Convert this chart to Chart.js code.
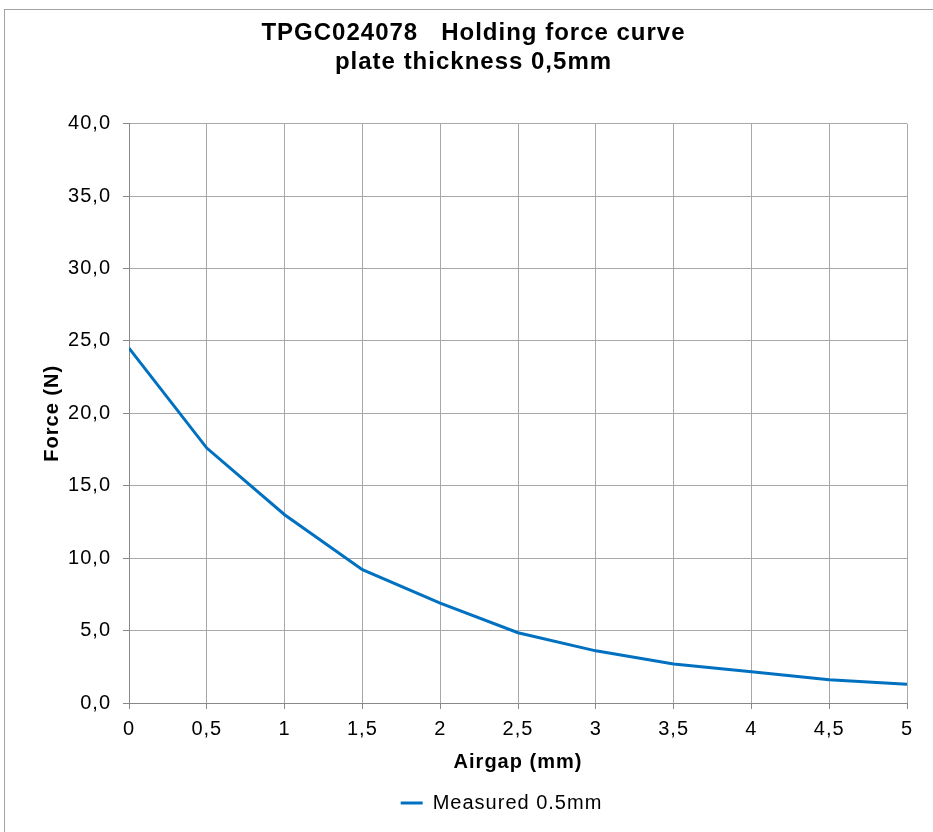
<!DOCTYPE html>
<html>
<head>
<meta charset="utf-8">
<title>TPGC024078 Holding force curve</title>
<script src="https://cdn.jsdelivr.net/npm/chart.js@4.4.1/dist/chart.umd.min.js"></script>
<style>
    html, body { margin: 0; padding: 0; background: #fff; }
    #wrap { position: relative; width: 933px; height: 832px; overflow: hidden; }
    #frame {
        position: absolute; left: 4px; top: 9px; right: -10px; bottom: -10px;
        border-left: 1px solid #a3a3a3; border-top: 1px solid #a3a3a3;
        pointer-events: none;
    }
    canvas { position: absolute; left: 0; top: 0; }
</style>
</head>
<body>
<div id="wrap">
    <div id="frame"></div>
    <canvas id="forceChart" width="933" height="832"></canvas>
</div>
<script>
// values
const chartTitle = ['TPGC024078   Holding force curve', 'plate thickness 0,5mm'];
const seriesName = 'Measured 0.5mm';
const airgap = [0, 0.5, 1, 1.5, 2, 2.5, 3, 3.5, 4, 4.5, 5];
const force = [24.5, 17.6, 13.0, 9.2, 6.9, 4.85, 3.6, 2.7, 2.15, 1.6, 1.3];
const xTicks = [0, 0.5, 1, 1.5, 2, 2.5, 3, 3.5, 4, 4.5, 5];
const yTicks = [0, 5, 10, 15, 20, 25, 30, 35, 40];

const lineBlue = '#0070c0';
const gridGrey = '#a8a8a8';
const axisGrey = '#888888';
const fontFamily = "'Liberation Sans', Arial, sans-serif";

function comma(text) {
    return String(text).replace('.', ',');
}

// the reference font runs a bit wider than Liberation Sans
const spacing = {
    id: 'spacing',
    beforeUpdate(chart) { chart.ctx.letterSpacing = '1px'; },
    beforeLayout(chart) { chart.ctx.letterSpacing = '1px'; },
    beforeDraw(chart) { chart.ctx.letterSpacing = '1px'; }
};

// the legend sits a little right of the page centre in the reference
const legendShift = {
    id: 'legendShift',
    afterLayout(chart) {
        chart.legend.left += 28;
        chart.legend.right += 28;
    }
};

Chart.defaults.font.family = fontFamily;
Chart.defaults.color = '#000';

const ctx = document.getElementById('forceChart');

new Chart(ctx, {
    type: 'line',
    data: {
        datasets: [{
            label: seriesName,
            data: airgap.map((x, i) => ({ x: x, y: force[i] })),
            borderColor: lineBlue,
            backgroundColor: lineBlue,
            borderWidth: 3,
            pointRadius: 0,
            tension: 0
        }]
    },
    options: {
        responsive: false,
        animation: false,
        layout: { padding: { left: 40, right: 26, top: 0, bottom: 9 } },
        plugins: {
            title: {
                display: true,
                text: chartTitle,
                color: '#000',
                font: { size: 24, weight: 'bold', lineHeight: 1.2 },
                padding: { top: 19, bottom: 47 }
            },
            legend: {
                position: 'bottom',
                labels: {
                    boxWidth: 22,
                    boxHeight: 3,
                    font: { size: 20 },
                    generateLabels(chart) {
                        const items = Chart.defaults.plugins.legend.labels.generateLabels(chart);
                        items.forEach(item => { item.lineWidth = 0; item.fillStyle = lineBlue; });
                        return items;
                    }
                }
            },
            tooltip: { enabled: false }
        },
        scales: {
            x: {
                type: 'linear',
                min: 0,
                max: 5,
                afterBuildTicks(scale) { scale.ticks = xTicks.map(v => ({ value: v })); },
                afterFit(scale) { scale.height = 80; },
                ticks: {
                    font: { size: 20 },
                    padding: 8,
                    maxRotation: 0,
                    callback: v => comma(v)
                },
                grid: { color: gridGrey, tickLength: 6, tickColor: axisGrey },
                border: { color: axisGrey, width: 1 },
                title: {
                    display: true,
                    text: 'Airgap (mm)',
                    font: { size: 20, weight: 'bold', lineHeight: 1.2 },
                    padding: { top: 0, bottom: 9 }
                }
            },
            y: {
                min: 0,
                max: 40,
                afterBuildTicks(scale) { scale.ticks = yTicks.map(v => ({ value: v })); },
                afterFit(scale) { scale.width = 89; },
                ticks: {
                    font: { size: 20 },
                    padding: 12,
                    callback: v => comma(v.toFixed(1))
                },
                grid: { color: gridGrey, tickLength: 6, tickColor: axisGrey },
                border: { color: axisGrey, width: 1 },
                title: {
                    display: true,
                    text: 'Force (N)',
                    font: { size: 20, weight: 'bold', lineHeight: 1.2 },
                    padding: { top: 0, bottom: 0 }
                }
            }
        }
    },
    plugins: [spacing, legendShift]
});
</script>
</body>
</html>
